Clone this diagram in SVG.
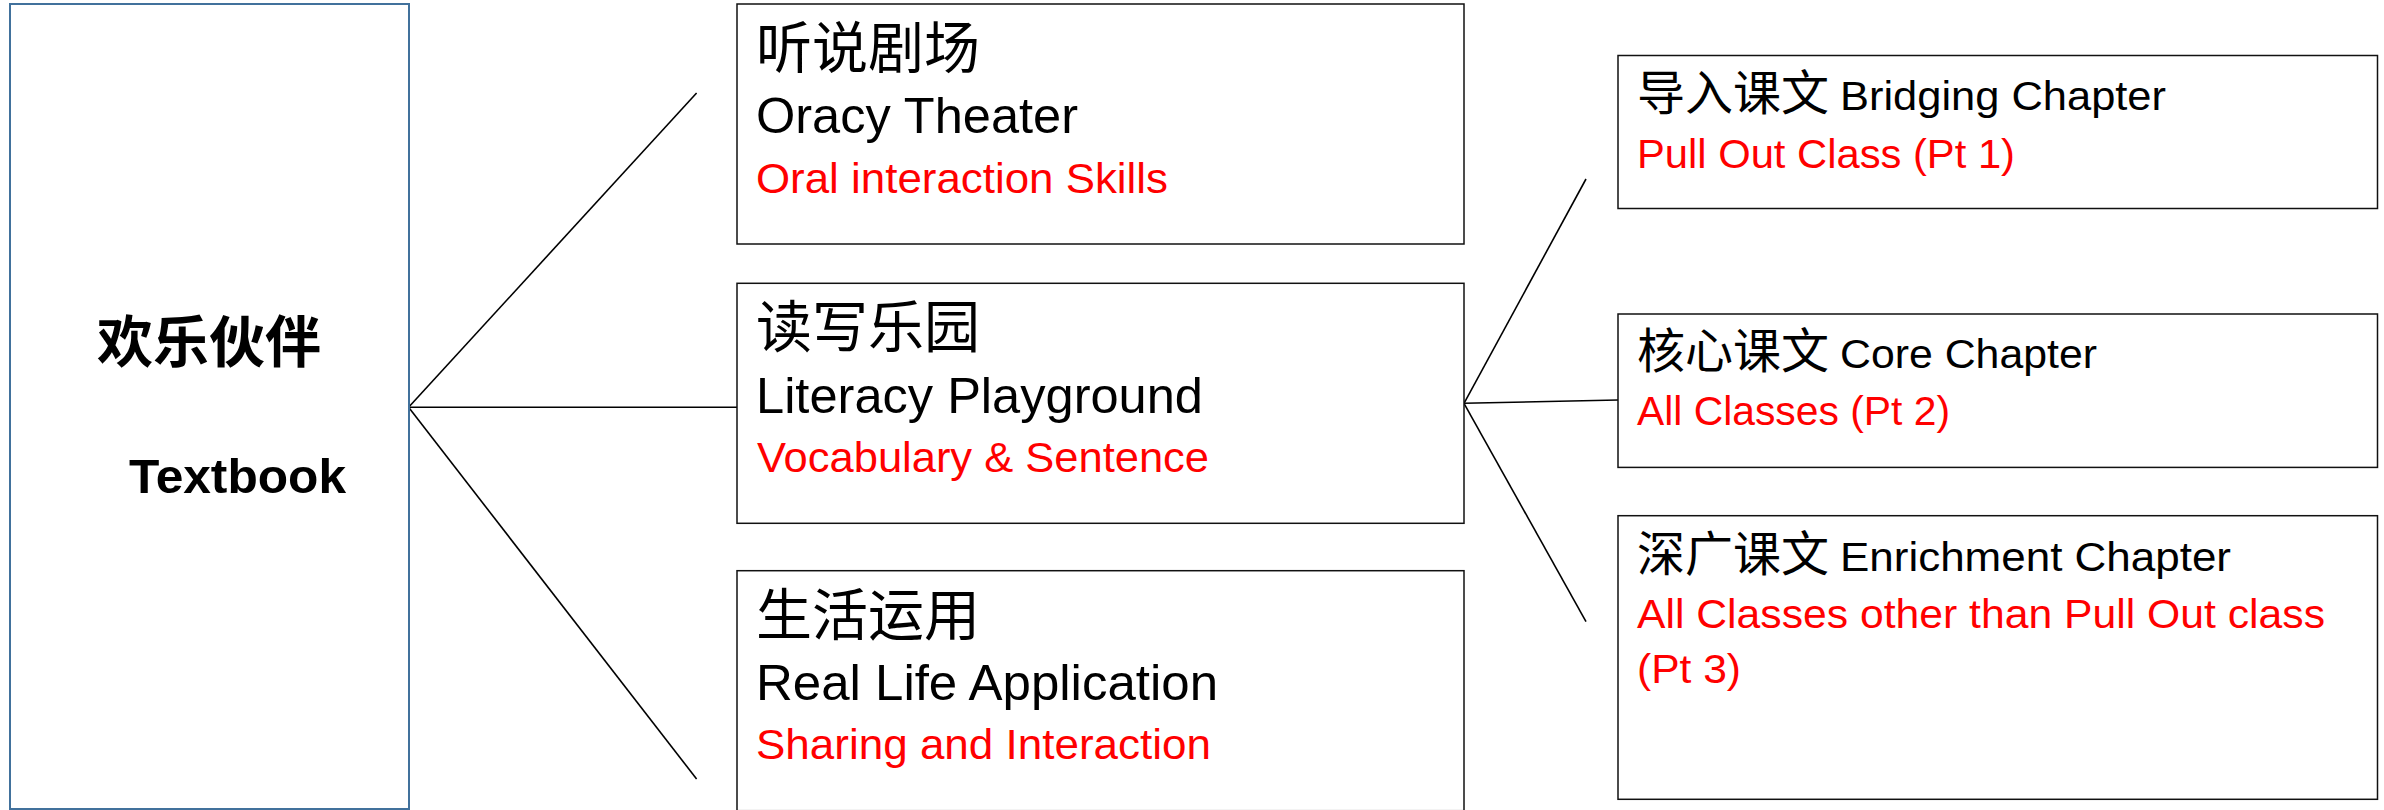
<svg xmlns="http://www.w3.org/2000/svg" width="2384" height="810" viewBox="0 0 2384 810">
<style>
.box{fill:#fff;stroke:#111;stroke-width:1.5}
.main{fill:#fff;stroke:#41719C;stroke-width:2}
.conn{stroke:#000;stroke-width:1.6;fill:none}
.cjk{font-family:"Noto Sans CJK SC","Liberation Sans",sans-serif;fill:#000}
.lat{font-family:"Liberation Sans","Noto Sans CJK SC",sans-serif;fill:#000}
.red{font-family:"Liberation Sans","Noto Sans CJK SC",sans-serif;fill:#ff0000}
.big{font-size:56px}
.bl{font-size:49.5px}
.rl{font-size:42.5px}
.sc{font-size:48px}
.sb{font-size:41.5px}
.sr{font-size:40.5px}
</style>
<rect width="2384" height="810" fill="#fff"/>
<g id="connectors">
<line class="conn" x1="408.6" y1="407.3" x2="696.6" y2="93"/>
<line class="conn" x1="408.6" y1="407.3" x2="737" y2="407.3"/>
<line class="conn" x1="408.6" y1="407.3" x2="696.6" y2="779"/>
<line class="conn" x1="1464" y1="403.3" x2="1586" y2="179"/>
<line class="conn" x1="1464" y1="403.3" x2="1618" y2="400"/>
<line class="conn" x1="1464" y1="403.3" x2="1586" y2="621.7"/>
</g>
<g id="textbook">
<rect class="main" x="10" y="4" width="399" height="805"/>
<text class="cjk big" x="97" y="362" font-weight="bold">欢乐伙伴</text>
<text class="lat" x="129" y="493.3" font-size="48.4" font-weight="bold" textLength="217" lengthAdjust="spacingAndGlyphs">Textbook</text>
</g>
<g id="oracy">
<rect class="box" x="737" y="4" width="727" height="240"/>
<text class="cjk big" x="756" y="68">听说剧场</text>
<text class="lat bl" x="756" y="133.3" textLength="322" lengthAdjust="spacingAndGlyphs">Oracy Theater</text>
<text class="red rl" x="756" y="192.7" textLength="412" lengthAdjust="spacingAndGlyphs">Oral interaction Skills</text>
</g>
<g id="literacy">
<rect class="box" x="737" y="283.3" width="727" height="240"/>
<text class="cjk big" x="756" y="347.3">读写乐园</text>
<text class="lat bl" x="756" y="412.6" textLength="447" lengthAdjust="spacingAndGlyphs">Literacy Playground</text>
<text class="red rl" x="757" y="472" textLength="452" lengthAdjust="spacingAndGlyphs">Vocabulary &amp; Sentence</text>
</g>
<g id="reallife">
<rect class="box" x="737" y="570.7" width="727" height="240"/>
<text class="cjk big" x="756" y="634.7">生活运用</text>
<text class="lat bl" x="756" y="700" textLength="462" lengthAdjust="spacingAndGlyphs">Real Life Application</text>
<text class="red rl" x="756" y="759.4" textLength="455" lengthAdjust="spacingAndGlyphs">Sharing and Interaction</text>
</g>
<g id="bridging">
<rect class="box" x="1618" y="55.5" width="759.5" height="153"/>
<text class="cjk sc" x="1637" y="110">导入课文</text>
<text class="lat sb" x="1840" y="110" textLength="326" lengthAdjust="spacingAndGlyphs">Bridging Chapter</text>
<text class="red sr" x="1637" y="167.7" textLength="378" lengthAdjust="spacingAndGlyphs">Pull Out Class (Pt 1)</text>
</g>
<g id="core">
<rect class="box" x="1618" y="314" width="759.5" height="153.4"/>
<text class="cjk sc" x="1637" y="368.3">核心课文</text>
<text class="lat sb" x="1840" y="368.3" textLength="257" lengthAdjust="spacingAndGlyphs">Core Chapter</text>
<text class="red sr" x="1637" y="425" textLength="313" lengthAdjust="spacingAndGlyphs">All Classes (Pt 2)</text>
</g>
<g id="enrichment">
<rect class="box" x="1618" y="515.7" width="759.5" height="283.6"/>
<text class="cjk sc" x="1637" y="571">深广课文</text>
<text class="lat sb" x="1840" y="571" textLength="391" lengthAdjust="spacingAndGlyphs">Enrichment Chapter</text>
<text class="red sr" x="1637" y="627.7" textLength="688" lengthAdjust="spacingAndGlyphs">All Classes other than Pull Out class</text>
<text class="red sr" x="1637" y="683.3" textLength="104" lengthAdjust="spacingAndGlyphs">(Pt 3)</text>
</g>
</svg>
